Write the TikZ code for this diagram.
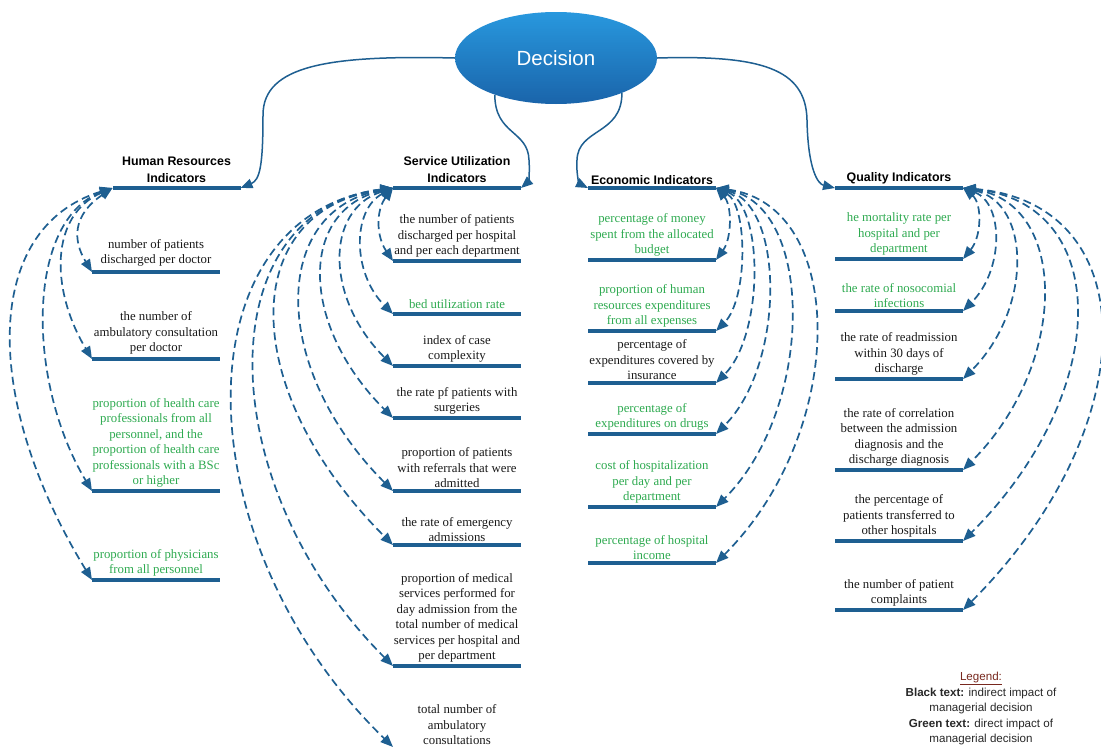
\documentclass[tikz,border=0pt]{standalone}
\usepackage{fontspec}
\setmainfont{Liberation Serif}
\setsansfont{Liberation Sans}
\usetikzlibrary{arrows.meta,shapes.geometric}
\definecolor{barblue}{RGB}{30,95,145}
\definecolor{txtgreen}{RGB}{46,170,80}
\definecolor{legred}{RGB}{120,40,30}
\definecolor{legtxt}{RGB}{40,40,40}
\definecolor{dectop}{RGB}{40,152,222}
\definecolor{decbot}{RGB}{26,100,170}
\begin{document}
\begin{tikzpicture}[x=1pt,y=-1pt,
  bar/.style={fill=barblue, minimum width=128pt, minimum height=4.2pt, inner sep=0pt, outer sep=0pt},
  itemtxt/.style={anchor=south, align=center, inner sep=1pt, font=\fontsize{12.8}{15.5}\selectfont, text=black!90},
  grn/.style={text=txtgreen},
  headtxt/.style={anchor=south, align=center, inner sep=3pt, font=\sffamily\bfseries\fontsize{12.4}{17}\selectfont},
  dlink/.style={draw=barblue, line width=1.7pt, dash pattern=on 8pt off 4.5pt, {Triangle[length=12.5pt,width=10pt]}-{Triangle[length=12.5pt,width=10pt]}},
  declink/.style={draw=barblue, line width=1.5pt, -{Triangle[length=12pt,width=9.5pt]}},
]
\useasboundingbox (0,0) rectangle (1101,747);
\fill[white] (0,0) rectangle (1101,747);

% Decision
\node[ellipse, minimum width=202pt, minimum height=92pt, inner sep=0pt, top color=dectop, bottom color=decbot, draw=none, text=white, font=\sffamily\fontsize{20.5}{24}\selectfont] (dec) at (556,58) {Decision};

% Headers
\node[bar] (hr) at (176.5,188) {};
\node[headtxt] (hrT) at (hr.north) {Human Resources\\Indicators};
\node[bar] (su) at (457,188) {};
\node[headtxt] (suT) at (su.north) {Service Utilization\\Indicators};
\node[bar] (ec) at (652,188) {};
\node[headtxt] (ecT) at ([yshift=-1.5pt]ec.north) {Economic Indicators};
\node[bar] (q) at (899,188) {};
\node[headtxt] (qT) at ([yshift=-1pt]q.north) {Quality Indicators};

% Decision connectors
\draw[declink] (dec.west) .. controls (330,55) and (263,65) .. (263,115) .. controls (263,165) and (260,180) .. (hr.east);
\draw[declink] (dec.211) .. controls (495,135) and (528,130) .. (529,160) .. controls (530,175) and (528,182) .. (su.east);
\draw[declink] (dec.-28) .. controls (622,135) and (578,128) .. (577,160) .. controls (576,176) and (580,184) .. (ec.west);
\draw[declink] (dec.east) .. controls (760,55) and (806,68) .. (807,120) .. controls (808,170) and (818,184) .. (q.west);

% HR items
\node[bar] (hr1) at (156,272) {};
\node[itemtxt] (hr1t) at ([yshift=2pt]hr1.north) {number of patients\\discharged per doctor};
\node[bar] (hr2) at (156,359) {};
\node[itemtxt] (hr2t) at ([yshift=1pt]hr2.north) {the number of\\ambulatory consultation\\per doctor};
\node[bar] (hr3) at (156,491) {};
\node[itemtxt,grn] (hr3t) at (hr3.north) {proportion of health care\\professionals from all\\personnel, and the\\proportion of health care\\professionals with a BSc\\or higher};
\node[bar] (hr4) at (156,580) {};
\node[itemtxt,grn] (hr4t) at (hr4.north) {proportion of physicians\\from all personnel};

\draw[dlink] (hr.west) .. controls (72.5,215) and (72.5,240) .. (hr1.west);
\draw[dlink] (hr.west) .. controls (50,215) and (50,289) .. (hr2.west);
\draw[dlink] (hr.west) .. controls (26,220) and (26,381) .. (hr3.west);
\draw[dlink] (hr.west) .. controls (-18,228) and (-18,400) .. (hr4.west);

% SU items
\node[bar] (su1) at (457,261) {};
\node[itemtxt] (su1t) at (su1.north) {the number of patients\\discharged per hospital\\and per each department};
\node[bar] (su2) at (457,314) {};
\node[itemtxt,grn] (su2t) at ([yshift=2pt]su2.north) {bed utilization rate};
\node[bar] (su3) at (457,366) {};
\node[itemtxt] (su3t) at (su3.north) {index of case\\complexity};
\node[bar] (su4) at (457,418) {};
\node[itemtxt] (su4t) at (su4.north) {the rate pf patients with\\surgeries};
\node[bar] (su5) at (457,491) {};
\node[itemtxt] (su5t) at (su5.north) {proportion of patients\\with referrals that were\\admitted};
\node[bar] (su6) at (457,545) {};
\node[itemtxt] (su6t) at (su6.north) {the rate of emergency\\admissions};
\node[bar] (su7) at (457,666) {};
\node[itemtxt] (su7t) at (su7.north) {proportion of medical\\services performed for\\day admission from the\\total number of medical\\services per hospital and\\per department};
\node[itemtxt] (su8t) at (457,746) {total number of\\ambulatory\\consultations};
\coordinate (su8) at (393,747);

\draw[dlink] (su.west) .. controls (376,210) and (376,236) .. (su1.west);
\draw[dlink] (su.west) .. controls (352,210) and (352,273) .. (su2.west);
\draw[dlink] (su.west) .. controls (325,210) and (325,298) .. (su3.west);
\draw[dlink] (su.west) .. controls (299,210) and (299,324) .. (su4.west);
\draw[dlink] (su.west) .. controls (270,210) and (270,368) .. (su5.west);
\draw[dlink] (su.west) .. controls (237,210) and (237,389) .. (su6.west);
\draw[dlink] (su.west) .. controls (209,210) and (209,482) .. (su7.west);
\draw[dlink] (su.west) .. controls (180,215) and (180,540) .. (su8);

% Economic items
\node[bar] (ec1) at (652,260) {};
\node[itemtxt,grn] (ec1t) at (ec1.north) {percentage of money\\spent from the allocated\\budget};
\node[bar] (ec2) at (652,331) {};
\node[itemtxt,grn] (ec2t) at (ec2.north) {proportion of human\\resources expenditures\\from all expenses};
\node[bar] (ec3) at (652,383) {};
\node[itemtxt] (ec3t) at (ec3.north) {percentage of\\expenditures covered by\\insurance};
\node[bar] (ec4) at (652,434) {};
\node[itemtxt,grn] (ec4t) at (ec4.north) {percentage of\\expenditures on drugs};
\node[bar] (ec5) at (652,507) {};
\node[itemtxt,grn] (ec5t) at (ec5.north) {cost of hospitalization\\per day and per\\department};
\node[bar] (ec6) at (652,563) {};
\node[itemtxt,grn] (ec6t) at (ec6.north) {percentage of hospital\\income};

\draw[dlink] (ec.east) .. controls (732,205) and (732,238) .. (ec1.east);
\draw[dlink] (ec.east) .. controls (748,205) and (748,299) .. (ec2.east);
\draw[dlink] (ec.east) .. controls (764,205) and (764,335) .. (ec3.east);
\draw[dlink] (ec.east) .. controls (785,205) and (785,365) .. (ec4.east);
\draw[dlink] (ec.east) .. controls (815,205) and (815,408) .. (ec5.east);
\draw[dlink] (ec.east) .. controls (848,205) and (848,431) .. (ec6.east);

% Quality items
\node[bar] (q1) at (899,259) {};
\node[itemtxt,grn] (q1t) at (q1.north) {he mortality rate per\\hospital and per\\department};
\node[bar] (q2) at (899,311) {};
\node[itemtxt,grn] (q2t) at (q2.north) {the rate of nosocomial\\infections};
\node[bar] (q3) at (899,379) {};
\node[itemtxt] (q3t) at (q3.north) {the rate of readmission\\within 30 days of\\discharge};
\node[bar] (q4) at (899,470) {};
\node[itemtxt] (q4t) at (q4.north) {the rate of correlation\\between the admission\\diagnosis and the\\discharge diagnosis};
\node[bar] (q5) at (899,541) {};
\node[itemtxt] (q5t) at (q5.north) {the percentage of\\patients transferred to\\other hospitals};
\node[bar] (q6) at (899,610) {};
\node[itemtxt] (q6t) at (q6.north) {the number of patient\\complaints};

\draw[dlink] (q.east) .. controls (982,203) and (982,236) .. (q1.east);
\draw[dlink] (q.east) .. controls (1004,203) and (1004,270) .. (q2.east);
\draw[dlink] (q.east) .. controls (1032,203) and (1032,310) .. (q3.east);
\draw[dlink] (q.east) .. controls (1069,203) and (1069,364) .. (q4.east);
\draw[dlink] (q.east) .. controls (1113,203) and (1113,391) .. (q5.east);
\draw[dlink] (q.east) .. controls (1146,203) and (1146,427) .. (q6.east);

% Legend
\node[anchor=north, align=center, inner sep=0pt, text=legtxt, font=\sffamily\fontsize{11.6}{15.5}\selectfont] (legend) at (981,672) {\textcolor{legred}{\underline{Legend:}}\\\textbf{Black text:} indirect impact of\\managerial decision\\\textbf{Green text:} direct impact of\\managerial decision};
\end{tikzpicture}
\end{document}
